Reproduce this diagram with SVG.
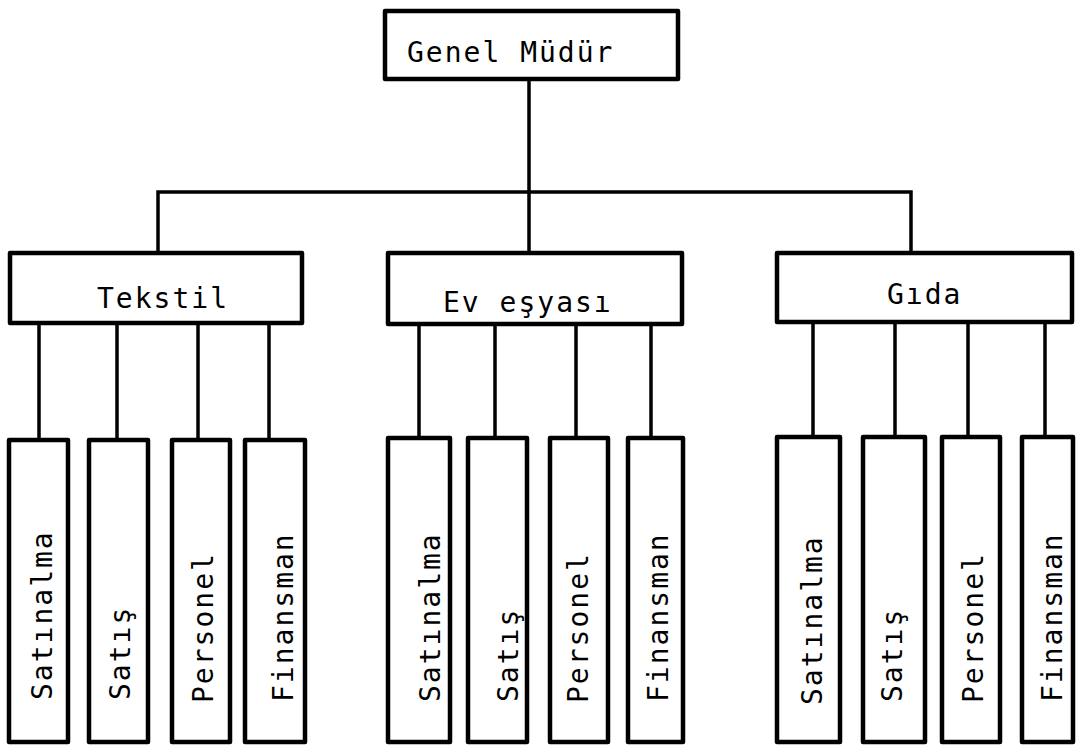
<svg xmlns="http://www.w3.org/2000/svg" width="1077" height="746" viewBox="0 0 1077 746">
  <style>
    .box { fill: #ffffff; stroke: #000000; stroke-width: 4.5; stroke-linejoin: round; }
    .link { fill: none; stroke: #000000; stroke-width: 3.5; stroke-linecap: square; }
    .lbl { font-family: "DejaVu Sans Mono", "Liberation Mono", monospace; font-size: 28px; letter-spacing: 2px; fill: #000000; }
  </style>
  <rect width="1077" height="746" fill="#ffffff"/>

  <!-- connectors -->
  <g id="connectors">
    <path class="link" d="M529 79 V192 M158 192 H911 M158 192 V253 M529 192 V253 M911 192 V253"/>
    <path class="link" d="M39 323 V439 M117 323 V439 M198 323 V439 M269 323 V439"/>
    <path class="link" d="M419 324 V438 M495 324 V438 M576 324 V438 M651 324 V438"/>
    <path class="link" d="M813 322 V437 M895 322 V437 M968 322 V437 M1045 322 V437"/>
  </g>

  <!-- top level -->
  <g id="genel-mudur">
    <rect class="box" x="385" y="11" width="293" height="68"/>
    <text class="lbl" x="407" y="62">Genel Müdür</text>
  </g>

  <!-- divisions -->
  <g id="tekstil">
    <rect class="box" x="10" y="253" width="292" height="70"/>
    <text class="lbl" x="97" y="308">Tekstil</text>
  </g>
  <g id="ev-esyasi">
    <rect class="box" x="388" y="253" width="294" height="71"/>
    <text class="lbl" x="443" y="312">Ev eşyası</text>
  </g>
  <g id="gida">
    <rect class="box" x="777" y="253" width="295" height="69"/>
    <text class="lbl" x="887" y="304">Gıda</text>
  </g>

  <!-- Tekstil departments -->
  <g id="tekstil-satinalma">
    <rect class="box" x="9" y="440" width="59" height="302"/>
    <text class="lbl" transform="translate(52 700) rotate(-90)">Satınalma</text>
  </g>
  <g id="tekstil-satis">
    <rect class="box" x="89" y="440" width="59" height="302"/>
    <text class="lbl" transform="translate(130 700) rotate(-90)">Satış</text>
  </g>
  <g id="tekstil-personel">
    <rect class="box" x="172" y="440" width="58" height="302"/>
    <text class="lbl" transform="translate(213 703) rotate(-90)">Personel</text>
  </g>
  <g id="tekstil-finansman">
    <rect class="box" x="245" y="440" width="60" height="302"/>
    <text class="lbl" transform="translate(293 702) rotate(-90)">Finansman</text>
  </g>

  <!-- Ev eşyası departments -->
  <g id="ev-satinalma">
    <rect class="box" x="388" y="438" width="62" height="304"/>
    <text class="lbl" transform="translate(440 702) rotate(-90)">Satınalma</text>
  </g>
  <g id="ev-satis">
    <rect class="box" x="468" y="438" width="59" height="304"/>
    <text class="lbl" transform="translate(518 702) rotate(-90)">Satış</text>
  </g>
  <g id="ev-personel">
    <rect class="box" x="550" y="438" width="58" height="304"/>
    <text class="lbl" transform="translate(588 703) rotate(-90)">Personel</text>
  </g>
  <g id="ev-finansman">
    <rect class="box" x="628" y="438" width="55" height="304"/>
    <text class="lbl" transform="translate(668 702) rotate(-90)">Finansman</text>
  </g>

  <!-- Gıda departments -->
  <g id="gida-satinalma">
    <rect class="box" x="777" y="437" width="63" height="305"/>
    <text class="lbl" transform="translate(822 705) rotate(-90)">Satınalma</text>
  </g>
  <g id="gida-satis">
    <rect class="box" x="863" y="437" width="62" height="305"/>
    <text class="lbl" transform="translate(902 702) rotate(-90)">Satış</text>
  </g>
  <g id="gida-personel">
    <rect class="box" x="942" y="437" width="58" height="305"/>
    <text class="lbl" transform="translate(983 703) rotate(-90)">Personel</text>
  </g>
  <g id="gida-finansman">
    <rect class="box" x="1022" y="437" width="51" height="305"/>
    <text class="lbl" transform="translate(1062 702) rotate(-90)">Finansman</text>
  </g>
</svg>
